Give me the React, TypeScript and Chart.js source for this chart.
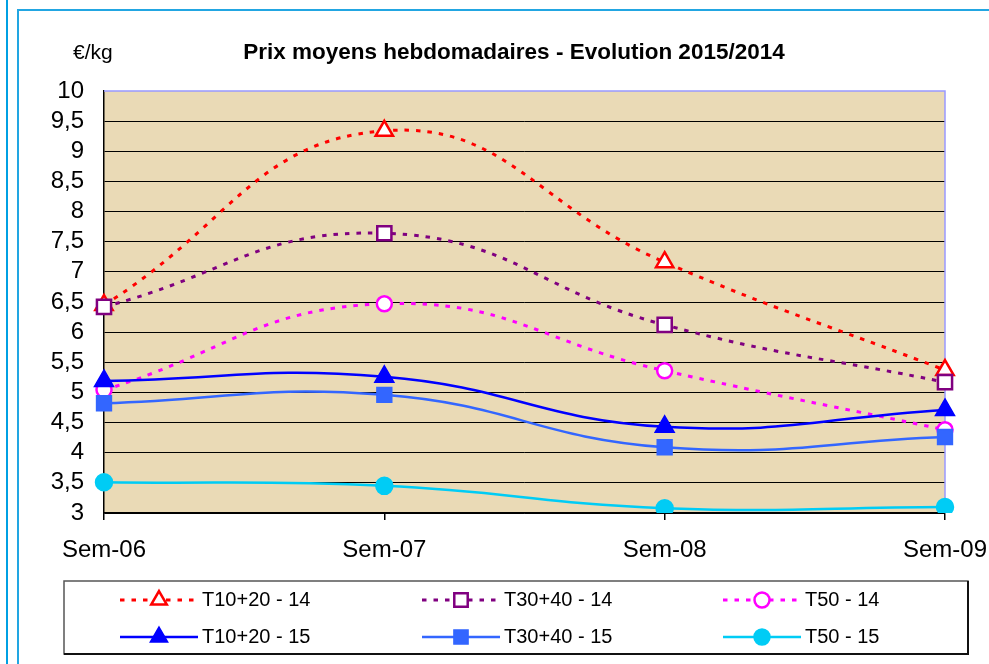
import React, { useEffect, useRef } from 'react';
import { Chart, registerables } from 'chart.js';
import { drawPoint } from 'chart.js/helpers';

Chart.register(...registerables);

const categories = ['Sem-06', 'Sem-07', 'Sem-08', 'Sem-09'];
const t1020_14 = [6.45, 9.34, 7.16, 5.37];
const t3040_14 = [6.42, 7.64, 6.12, 5.17];
const t50_14 = [5.04, 6.47, 5.36, 4.38];
const t1020_15 = [5.19, 5.26, 4.43, 4.71];
const t3040_15 = [4.82, 4.96, 4.09, 4.26];
const t50_15 = [3.51, 3.45, 3.08, 3.1];
const seriesLabels = ['T10+20 - 14', 'T30+40 - 14', 'T50 - 14', 'T10+20 - 15', 'T30+40 - 15', 'T50 - 15'];
const titleText = 'Prix moyens hebdomadaires - Evolution 2015/2014';
const unitText = '€/kg';
const yMin = 3;
const yMax = 10;
const yStep = 0.5;

const FONT = '"Liberation Sans", Arial, sans-serif';

const decorPlugin = {
  id: 'decor',
  beforeDraw(chart: any) {
    const { ctx, chartArea: a } = chart;
    ctx.save();
    ctx.fillStyle = '#ffffff';
    ctx.fillRect(0, 0, chart.width, chart.height);
    ctx.strokeStyle = '#00a0e3';
    ctx.lineWidth = 2;
    ctx.beginPath();
    ctx.moveTo(7, 0);
    ctx.lineTo(7, chart.height);
    ctx.stroke();
    ctx.strokeStyle = '#22a6e2';
    ctx.beginPath();
    ctx.moveTo(18, chart.height);
    ctx.lineTo(18, 10);
    ctx.lineTo(chart.width, 10);
    ctx.stroke();
    ctx.fillStyle = '#EADAB6';
    ctx.fillRect(a.left, a.top, a.right - a.left, a.bottom - a.top);
    ctx.restore();
  },
  beforeDatasetsDraw(chart: any) {
    const { ctx, chartArea: a } = chart;
    ctx.save();
    ctx.strokeStyle = '#9999ff';
    ctx.lineWidth = 1.5;
    ctx.beginPath();
    ctx.moveTo(a.left, a.top);
    ctx.lineTo(a.right, a.top);
    ctx.lineTo(a.right, a.bottom);
    ctx.stroke();
    ctx.restore();
  },
  afterDraw(chart: any) {
    const { ctx } = chart;
    ctx.save();
    ctx.fillStyle = '#000';
    ctx.textBaseline = 'alphabetic';
    ctx.font = `bold 22.5px ${FONT}`;
    ctx.textAlign = 'center';
    ctx.fillText(titleText, 514, 59);
    ctx.font = `21px ${FONT}`;
    ctx.textAlign = 'left';
    ctx.fillText(unitText, 73, 59);

    ctx.strokeStyle = '#555';
    ctx.lineWidth = 1.5;
    ctx.strokeRect(64, 581, 904, 73);
    ctx.strokeStyle = '#111';
    ctx.lineWidth = 2;
    ctx.beginPath();
    ctx.moveTo(64, 654);
    ctx.lineTo(968, 654);
    ctx.lineTo(968, 581);
    ctx.stroke();

    const cols = [120, 422, 723];
    const rows = [600, 637];
    const baselines = [606, 643];
    chart.data.datasets.forEach((ds: any, i: number) => {
      const x0 = cols[i % 3];
      const y = rows[Math.floor(i / 3)];
      ctx.save();
      ctx.setLineDash(ds.borderDash || []);
      ctx.lineWidth = ds.borderWidth;
      ctx.strokeStyle = ds.borderColor;
      ctx.beginPath();
      ctx.moveTo(x0, y);
      ctx.lineTo(x0 + 78, y);
      ctx.stroke();
      ctx.setLineDash([]);
      ctx.fillStyle = ds.pointBackgroundColor;
      ctx.strokeStyle = ds.pointBorderColor;
      ctx.lineWidth = ds.pointBorderWidth;
      drawPoint(ctx, { pointStyle: ds.pointStyle, radius: ds.legendRadius, rotation: 0, borderWidth: ds.pointBorderWidth }, x0 + 39, y);
      ctx.restore();
      ctx.fillStyle = '#000';
      ctx.font = `20px ${FONT}`;
      ctx.textAlign = 'left';
      ctx.textBaseline = 'alphabetic';
      ctx.fillText(ds.label, x0 + 82, baselines[Math.floor(i / 3)]);
    });
    ctx.restore();
  },
};

export default function App() {
  const canvasRef = useRef<HTMLCanvasElement | null>(null);

  useEffect(() => {
    const canvas = canvasRef.current;
    if (!canvas) return;
    const dash = [4.5, 7];
    const chart = new Chart(canvas, {
      type: 'line',
      data: {
        labels: categories,
        datasets: [
          {
            label: seriesLabels[0], data: t1020_14, borderColor: '#ff0000', borderWidth: 3, borderDash: dash,
            pointStyle: 'triangle', pointRadius: 10, legendRadius: 9, pointBorderWidth: 2.5, pointBorderColor: '#ff0000', pointBackgroundColor: '#ffffff',
          },
          {
            label: seriesLabels[1], data: t3040_14, borderColor: '#800080', borderWidth: 3, borderDash: dash,
            pointStyle: 'rect', pointRadius: 10, legendRadius: 9.5, pointBorderWidth: 2.5, pointBorderColor: '#800080', pointBackgroundColor: '#ffffff',
          },
          {
            label: seriesLabels[2], data: t50_14, borderColor: '#ff00ff', borderWidth: 3, borderDash: dash,
            pointStyle: 'circle', pointRadius: 7.5, legendRadius: 7.5, pointBorderWidth: 2.5, pointBorderColor: '#ff00ff', pointBackgroundColor: '#ffffff',
          },
          {
            label: seriesLabels[3], data: t1020_15, borderColor: '#0000ff', borderWidth: 2.5,
            pointStyle: 'triangle', pointRadius: 11, legendRadius: 10, pointBorderWidth: 1.5, pointBorderColor: '#0000ff', pointBackgroundColor: '#0000ff',
          },
          {
            label: seriesLabels[4], data: t3040_15, borderColor: '#3366ff', borderWidth: 2.5,
            pointStyle: 'rect', pointRadius: 10.5, legendRadius: 10, pointBorderWidth: 1.5, pointBorderColor: '#3366ff', pointBackgroundColor: '#3366ff',
          },
          {
            label: seriesLabels[5], data: t50_15, borderColor: '#00ccf5', borderWidth: 2.5,
            pointStyle: 'circle', pointRadius: 8.5, legendRadius: 8, pointBorderWidth: 1.5, pointBorderColor: '#00ccf5', pointBackgroundColor: '#00ccf5',
          },
        ].map((d: any, i: number) => ({ ...d, order: 6 - i, tension: 0.45, fill: false, pointHoverRadius: d.pointRadius })),
      },
      options: {
        animation: false,
        responsive: true,
        maintainAspectRatio: false,
        events: [],
        layout: { padding: { left: 0, top: 91, right: 44, bottom: 91 } },
        plugins: { legend: { display: false }, title: { display: false }, tooltip: { enabled: false } },
        scales: {
          x: {
            type: 'category',
            offset: false,
            grid: { drawOnChartArea: false, drawTicks: true, tickLength: 7, color: '#000', lineWidth: 1.5 },
            border: { color: '#000', width: 1.5 },
            ticks: { font: { size: 24, family: FONT }, color: '#000', padding: 16, maxRotation: 0, autoSkip: false },
            afterFit: (scale: any) => {
              scale.height = 60;
              scale.paddingLeft = 0;
              scale.paddingRight = 0;
            },
          },
          y: {
            min: yMin,
            max: yMax,
            grid: {
              drawTicks: false,
              color: (c: any) => (c.tick && c.tick.value === yMax ? 'rgba(0,0,0,0)' : '#000'),
              lineWidth: 1,
            },
            border: { color: '#000', width: 1.5 },
            ticks: {
              stepSize: yStep,
              autoSkip: false,
              font: { size: 24, family: FONT },
              color: '#000',
              padding: 20,
              callback: (v: any) => String(v).replace('.', ','),
            },
            afterFit: (scale: any) => {
              scale.width = 104;
              scale.paddingTop = 0;
              scale.paddingBottom = 0;
            },
          },
        },
      },
      plugins: [decorPlugin],
    } as any);
    return () => chart.destroy();
  }, []);

  return (
    <div style={{ position: 'absolute', left: 0, top: 0, width: 989, height: 664 }}>
      <canvas ref={canvasRef} />
    </div>
  );
}
